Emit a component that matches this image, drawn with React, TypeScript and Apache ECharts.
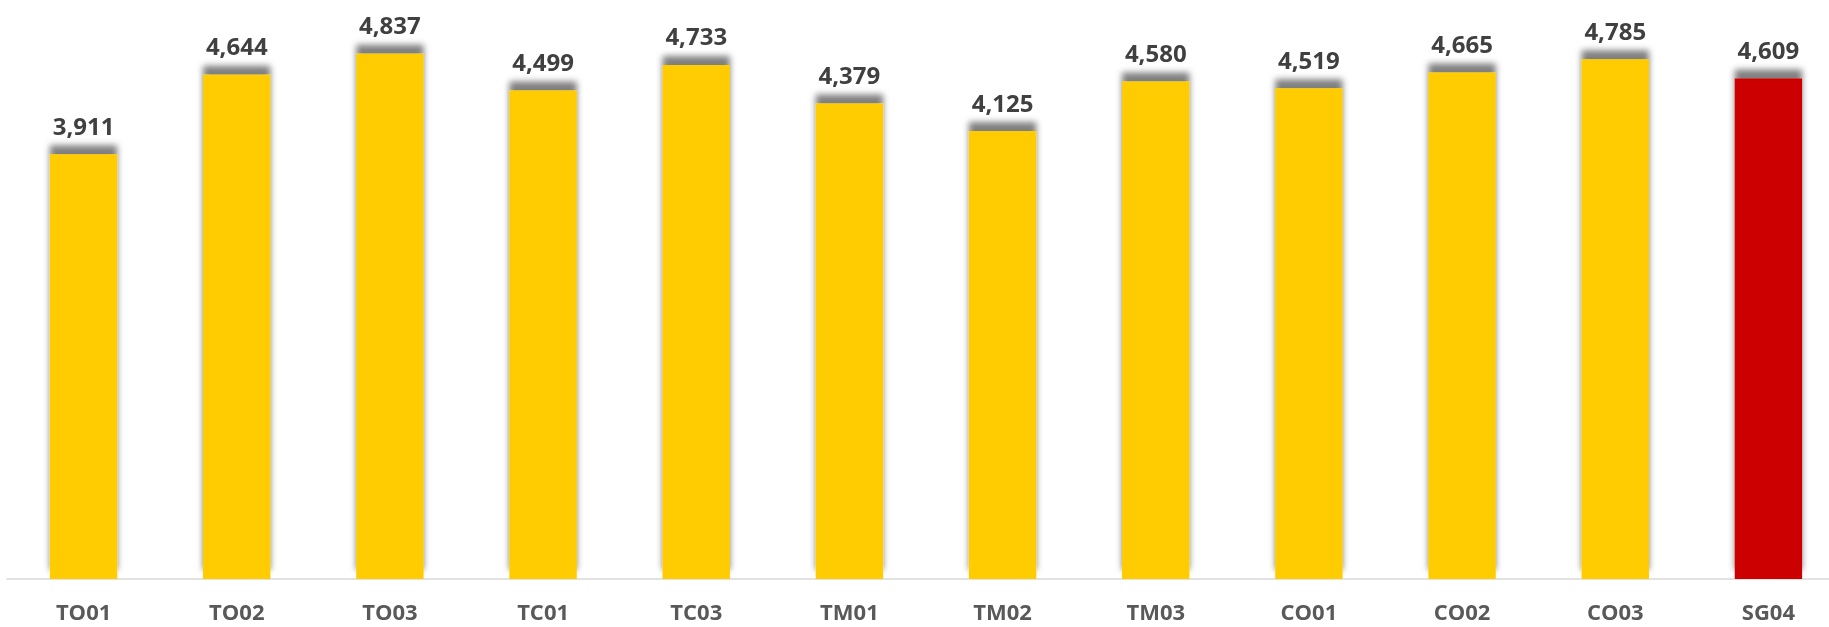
import React, { useEffect, useRef } from "react";
import * as echarts from "echarts";

const categories = ["TO01", "TO02", "TO03", "TC01", "TC03", "TM01", "TM02", "TM03", "CO01", "CO02", "CO03", "SG04"];
const values = [3911, 4644, 4837, 4499, 4733, 4379, 4125, 4580, 4519, 4665, 4785, 4609];
const highlight = ["SG04"];

export default function App() {
  const ref = useRef<HTMLDivElement>(null);
  useEffect(() => {
    if (!ref.current) return;
    const chart = echarts.init(ref.current, null, { renderer: "svg" });
    chart.setOption({
      animation: false,
      grid: { left: 7, top: 36, bottom: 48, right: 0, containLabel: false },
      xAxis: {
        type: "category",
        data: categories,
        axisLine: { lineStyle: { color: "#D9D9D9", width: 1.5 } },
        axisTick: { show: false },
        axisLabel: {
          color: "#595959",
          fontFamily: "Open Sans",
          fontWeight: "bold",
          fontSize: 22,
          lineHeight: 22,
          margin: 21,
        },
      },
      yAxis: { type: "value", min: 0, max: 5000, show: false, splitLine: { show: false } },
      series: [
        {
          type: "bar",
          barWidth: "44%",
          data: values.map((v, i) => ({
            value: v,
            itemStyle: {
              color: highlight.includes(categories[i]) ? "#CC0000" : "#FECC05",
            },
          })),
          itemStyle: {
            shadowColor: "rgba(0,0,0,0.5)",
            shadowBlur: 6,
            shadowOffsetY: -9,
          },
          label: {
            show: true,
            position: "top",
            distance: 17,
            color: "#404040",
            fontFamily: "Open Sans",
            fontWeight: "bold",
            fontSize: 24,
            formatter: (p: any) => p.value.toLocaleString("en-US"),
          },
        },
      ],
    });
    return () => chart.dispose();
  }, []);
  return (
    <div style={{ position: "fixed", left: 0, top: 0, width: 1829, height: 627, overflow: "hidden" }}>
      <div ref={ref} style={{ width: 1845, height: 627 }} />
    </div>
  );
}
